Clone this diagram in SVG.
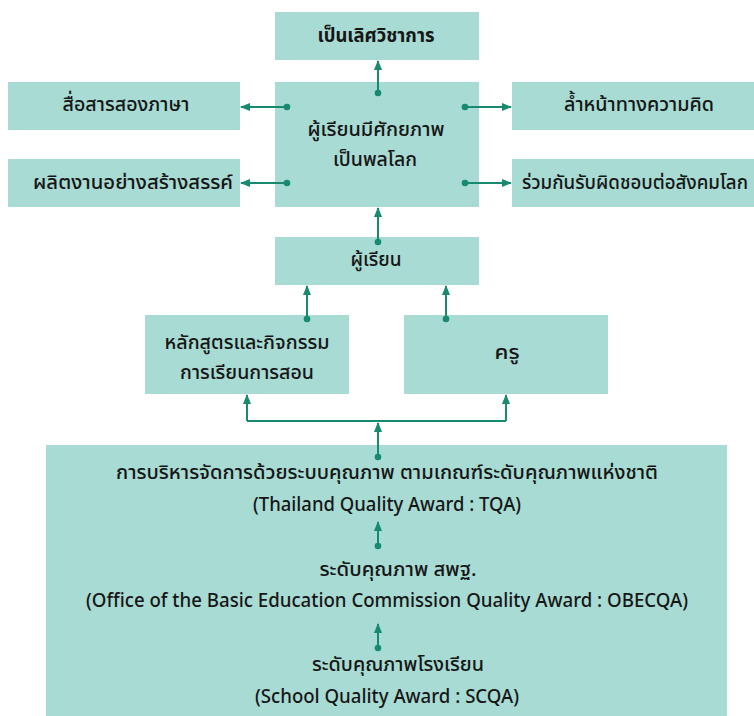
<svg xmlns="http://www.w3.org/2000/svg" width="754" height="716" viewBox="0 0 754 716">
<defs>
<style>
.box{fill:#a7dbd3;}
.t{font-family:"Noto Sans Thai","Noto Sans Thai UI","Noto Sans","DejaVu Sans",sans-serif;font-size:20px;font-weight:500;fill:#161616;text-anchor:middle;}
.b{font-weight:bold;}
.c{fill:none;stroke:#178a6f;stroke-width:2;marker-start:url(#dot);marker-end:url(#arr);}
.p{fill:none;stroke:#178a6f;stroke-width:2;}
</style>
<marker id="arr" markerUnits="userSpaceOnUse" markerWidth="10" markerHeight="8" refX="9" refY="4" orient="auto">
<path d="M0,0 L10,4 L0,8 Z" fill="#178a6f"/>
</marker>
<marker id="arr2" markerUnits="userSpaceOnUse" markerWidth="10" markerHeight="8" refX="9" refY="4" orient="auto">
<path d="M0,0 L10,4 L0,8 Z" fill="#178a6f"/>
</marker>
<marker id="dot" markerUnits="userSpaceOnUse" markerWidth="8" markerHeight="8" refX="4" refY="4">
<circle cx="4" cy="4" r="3.3" fill="#178a6f"/>
</marker>
</defs>

<g id="node-excellence">
<rect class="box" x="275" y="12" width="204" height="48"/>
<text class="t b" x="376" y="42" textLength="117" lengthAdjust="spacingAndGlyphs">เป็นเลิศวิชาการ</text>
</g>
<g id="node-bilingual">
<rect class="box" x="8" y="82" width="232" height="48"/>
<text class="t" x="126" y="111" textLength="127" lengthAdjust="spacingAndGlyphs">สื่อสารสองภาษา</text>
</g>
<g id="node-creative">
<rect class="box" x="8" y="159" width="232" height="48"/>
<text class="t" x="133" y="189" textLength="200" lengthAdjust="spacingAndGlyphs">ผลิตงานอย่างสร้างสรรค์</text>
</g>
<g id="node-global">
<rect class="box" x="275" y="82" width="204" height="125"/>
<text class="t" x="376" y="136" textLength="137" lengthAdjust="spacingAndGlyphs">ผู้เรียนมีศักยภาพ</text>
<text class="t" x="375" y="166" textLength="84" lengthAdjust="spacingAndGlyphs">เป็นพลโลก</text>
</g>
<g id="node-thinking">
<rect class="box" x="512" y="82" width="242" height="48"/>
<text class="t" x="639" y="111" textLength="150" lengthAdjust="spacingAndGlyphs">ล้ำหน้าทางความคิด</text>
</g>
<g id="node-responsibility">
<rect class="box" x="512" y="159" width="242" height="48"/>
<text class="t" style="font-size:17px" transform="translate(635,189) scale(1,1.176)" x="0" y="0" textLength="226" lengthAdjust="spacingAndGlyphs">ร่วมกันรับผิดชอบต่อสังคมโลก</text>
</g>
<g id="node-learner">
<rect class="box" x="275" y="237" width="204" height="48"/>
<text class="t" x="376" y="266" textLength="51" lengthAdjust="spacingAndGlyphs">ผู้เรียน</text>
</g>
<g id="node-curriculum">
<rect class="box" x="145" y="315" width="204" height="79"/>
<text class="t" x="247" y="349" textLength="165" lengthAdjust="spacingAndGlyphs">หลักสูตรและกิจกรรม</text>
<text class="t" x="247" y="379" textLength="134" lengthAdjust="spacingAndGlyphs">การเรียนการสอน</text>
</g>
<g id="node-teacher">
<rect class="box" x="404" y="315" width="204" height="79"/>
<text class="t" x="507" y="359" textLength="25" lengthAdjust="spacingAndGlyphs">ครู</text>
</g>
<g id="node-quality">
<rect class="box" x="46" y="445" width="681" height="271"/>
<text class="t" x="387" y="479" textLength="542" lengthAdjust="spacingAndGlyphs">การบริหารจัดการด้วยระบบคุณภาพ ตามเกณฑ์ระดับคุณภาพแห่งชาติ</text>
<text class="t" x="387" y="511" textLength="268" lengthAdjust="spacingAndGlyphs">(Thailand Quality Award : TQA)</text>
<text class="t" x="398" y="576" textLength="157" lengthAdjust="spacingAndGlyphs">ระดับคุณภาพ สพฐ.</text>
<text class="t" x="387" y="607" textLength="602" lengthAdjust="spacingAndGlyphs">(Office of the Basic Education Commission Quality Award : OBECQA)</text>
<text class="t" x="398" y="671" textLength="172" lengthAdjust="spacingAndGlyphs">ระดับคุณภาพโรงเรียน</text>
<text class="t" x="387" y="703" textLength="264" lengthAdjust="spacingAndGlyphs">(School Quality Award : SCQA)</text>
</g>

<g id="connectors">
<path class="c" d="M378,93 V61"/>
<path class="c" d="M287,107 H241"/>
<path class="c" d="M287,183 H241"/>
<path class="c" d="M465,107 H511"/>
<path class="c" d="M465,183 H511"/>
<path class="c" d="M378,242 V208"/>
<path class="c" d="M307,319 V286"/>
<path class="c" d="M446,319 V286"/>
<path class="c" d="M378,457 V423"/>
<path class="p" d="M247,421 H506"/>
<path class="p" d="M247,421 V395" marker-end="url(#arr2)"/>
<path class="p" d="M506,421 V395" marker-end="url(#arr2)"/>
<path class="c" d="M378,546 V522"/>
<path class="c" d="M378,648 V624"/>
</g>
</svg>
